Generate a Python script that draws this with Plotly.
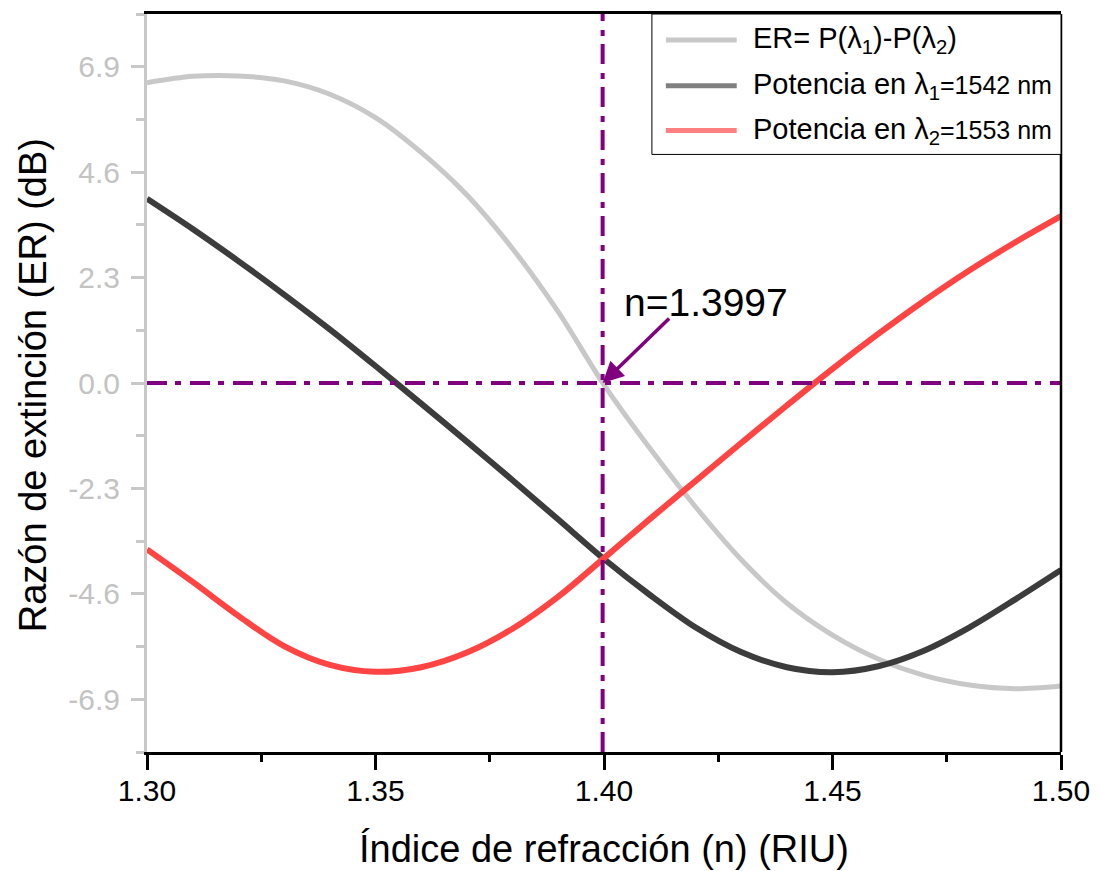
import plotly.graph_objects as go

# ---- data ----
n_vals = [1.30, 1.31, 1.32, 1.33, 1.34, 1.35, 1.36, 1.37, 1.38, 1.39, 1.40,
          1.41, 1.42, 1.43, 1.44, 1.45, 1.46, 1.47, 1.48, 1.49, 1.50]
er_vals = [6.55, 6.69, 6.70, 6.59, 6.30, 5.79, 5.03, 4.10, 2.93, 1.55, -0.04,
           -1.42, -2.70, -3.85, -4.80, -5.50, -6.02, -6.38, -6.59, -6.67, -6.61]
p1_vals = [4.02, 3.36, 2.66, 1.93, 1.17, 0.37, -0.45, -1.28, -2.12, -2.98, -3.84,
           -4.62, -5.33, -5.87, -6.20, -6.31, -6.18, -5.84, -5.33, -4.72, -4.08]
p2_vals = [-3.63, -4.34, -5.08, -5.74, -6.15, -6.30, -6.20, -5.88, -5.36, -4.66, -3.82,
           -2.97, -2.14, -1.31, -0.49, 0.31, 1.07, 1.79, 2.46, 3.07, 3.64]

x_tickvals = [1.30, 1.35, 1.40, 1.45, 1.50]
x_ticktext = ["1.30", "1.35", "1.40", "1.45", "1.50"]
x_minor = [1.325, 1.375, 1.425, 1.475]
y_tickvals = [6.9, 4.6, 2.3, 0.0, -2.3, -4.6, -6.9]
y_ticktext = ["6.9", "4.6", "2.3", "0.0", "-2.3", "-4.6", "-6.9"]
y_minor = [8.05, 5.75, 3.45, 1.15, -1.15, -3.45, -5.75, -8.05]

n_cross = 1.3997

legend_labels = [
    "ER= P(λ<sub>1</sub>)-P(λ<sub>2</sub>)",
    "Potencia en λ<sub>1</sub><span style='font-size:25px'>=1542 nm</span>",
    "Potencia en λ<sub>2</sub><span style='font-size:25px'>=1553 nm</span>",
]
legend_colors = ["#c8c8c8", "#808080", "#ff8080"]

FONT = "Arial, 'Liberation Sans', sans-serif"
PURPLE = "#800080"
DASHDOT = "20px,8px,6px,9px"

fig = go.Figure()
fig.add_trace(go.Scatter(x=n_vals, y=er_vals, mode="lines",
                         line=dict(color="#c8c8c8", width=5, shape="spline", smoothing=0.9),
                         showlegend=False))
fig.add_trace(go.Scatter(x=n_vals, y=p1_vals, mode="lines",
                         line=dict(color="#3c3c3c", width=6, shape="spline", smoothing=0.9),
                         showlegend=False))
fig.add_trace(go.Scatter(x=n_vals, y=p2_vals, mode="lines",
                         line=dict(color="#ff4444", width=6, shape="spline", smoothing=1.0),
                         showlegend=False))

# plot area in pixels: left 147, right 1063, top 11, bottom 752
L, R, T, B = 147, 1063, 11, 752
W, H = 1101, 871


def px(xp):
    return (xp - L) / (R - L)


def py(yp):
    return (B - yp) / (B - T)


shapes = [
    dict(type="line", xref="x", yref="paper", x0=n_cross, x1=n_cross, y0=0, y1=1,
         line=dict(color=PURPLE, width=4, dash=DASHDOT), layer="above"),
    dict(type="line", xref="paper", yref="y", x0=0, x1=1, y0=0, y1=0,
         line=dict(color=PURPLE, width=4, dash=DASHDOT), layer="above"),
    dict(type="line", xref="paper", yref="paper", x0=1, x1=1, y0=0, y1=1,
         line=dict(color="black", width=2.5), layer="above"),
    # legend box
    dict(type="rect", xref="paper", yref="paper", x0=px(653), x1=1, y0=py(152), y1=1,
         line=dict(color="black", width=1), fillcolor="white", layer="above"),
]
rows_y = [37, 83, 128]
annotations = []
for lab, col, ry in zip(legend_labels, legend_colors, rows_y):
    shapes.append(dict(type="line", xref="paper", yref="paper", x0=px(667), x1=px(738),
                       y0=py(ry), y1=py(ry), line=dict(color=col, width=5), layer="above"))
    annotations.append(dict(xref="paper", yref="paper", x=px(752), y=py(ry), text=lab,
                            showarrow=False, xanchor="left", yanchor="middle",
                            font=dict(family=FONT, size=29, color="black")))

annotations += [
    dict(x=n_cross, y=0, xref="x", yref="y", text="", showarrow=True,
         ax=68, ay=-66, arrowcolor=PURPLE, arrowwidth=3.5, arrowhead=2, arrowsize=1.2),
    dict(x=1.4223, y=1.76, xref="x", yref="y", text="n=1.3997", showarrow=False,
         xanchor="center", yanchor="middle", font=dict(family=FONT, size=39, color="black")),
    dict(xref="paper", yref="paper", x=px(33), y=py(383.5), text="Razón de extinción (ER) (dB)",
         textangle=-90, showarrow=False, xanchor="center", yanchor="middle",
         font=dict(family=FONT, size=38, color="black")),
    dict(xref="paper", yref="paper", x=px(605.5), y=py(849), text="Índice de refracción (n) (RIU)",
         showarrow=False, xanchor="center", yanchor="middle",
         font=dict(family=FONT, size=38, color="black")),
]

fig.update_layout(
    width=W, height=H,
    margin=dict(l=L, r=W - R, t=T, b=H - B, pad=0),
    plot_bgcolor="white", paper_bgcolor="white",
    showlegend=False,
    shapes=shapes, annotations=annotations,
    font=dict(family=FONT),
)
fig.update_xaxes(
    range=[1.30, 1.50], tickmode="array", tickvals=x_tickvals, ticktext=x_ticktext,
    ticks="outside", ticklen=15, tickwidth=2.5, tickcolor="black",
    showline=True, linecolor="black", linewidth=2.5, mirror=True,
    showgrid=False, zeroline=False, ticklabelstandoff=-5,
    tickfont=dict(family=FONT, size=30, color="black"),
    minor=dict(tickmode="array", tickvals=x_minor, ticks="outside", ticklen=7,
               tickwidth=2.5, tickcolor="black", showgrid=False),
)
fig.update_yaxes(
    range=[-8.05, 8.05], tickmode="array", tickvals=y_tickvals, ticktext=y_ticktext,
    ticks="outside", ticklen=13, tickwidth=2.5, tickcolor="#c8c8c8",
    showline=True, linecolor="#c8c8c8", linewidth=3, mirror=False,
    showgrid=False, zeroline=False, ticklabelstandoff=5,
    tickfont=dict(family=FONT, size=30, color="#c3c3c3"),
    minor=dict(tickmode="array", tickvals=y_minor, ticks="outside", ticklen=8,
               tickwidth=2.5, tickcolor="#c8c8c8", showgrid=False),
)

fig.write_html("out.html")
